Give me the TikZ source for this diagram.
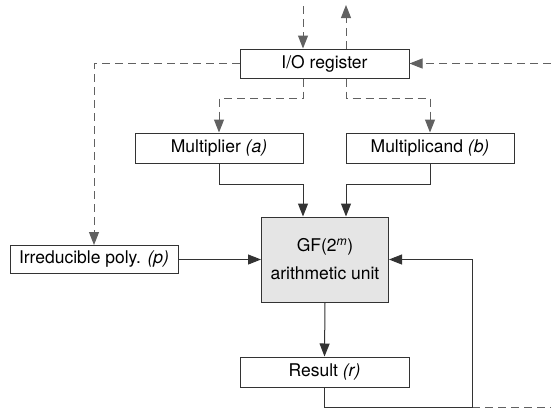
\documentclass[tikz,border=0pt]{standalone}
\usepackage{fontspec}
\setmainfont{TeX Gyre Heros}
\usetikzlibrary{arrows.meta}
\definecolor{solidc}{gray}{0.2}
\definecolor{dashc}{gray}{0.38}
\definecolor{gffill}{gray}{0.9}
\tikzset{
  box/.style={draw=solidc, line width=1pt, inner sep=0pt, font=\fontsize{17.5}{28}\selectfont, align=center},
  conn/.style={draw=solidc, line width=1pt},
  dconn/.style={draw=dashc, line width=1pt, dash pattern=on 8pt off 5pt},
  arr/.style={-{Triangle[length=13pt,width=10pt]}},
}
\begin{document}
\begin{tikzpicture}[x=1pt,y=-1pt]
\useasboundingbox (0,0) rectangle (551,413);
% nodes
\node[box, minimum width=169pt, minimum height=29pt] (io) at (324.5,63.5) {I/O register};
\node[box, minimum width=168pt, minimum height=30pt] (mul) at (219,148) {Multiplier \textit{(a)}};
\node[box, minimum width=168pt, minimum height=30pt] (mcd) at (430,148) {Multiplicand \textit{(b)}};
\node[box, minimum width=168pt, minimum height=28pt] (irr) at (94,259.5) {Irreducible poly. \textit{(p)}};
\node[box, fill=gffill, minimum width=127pt, minimum height=85pt] (gf) at (325,259.5) {GF(2\textsuperscript{\textit{m}})\\arithmetic unit};
\node[box, minimum width=169pt, minimum height=30pt] (res) at (324.5,372) {Result \textit{(r)}};
% helper coordinates
\coordinate (topin) at (303,6);
\coordinate (topout) at (346,5);
\coordinate (rin) at (551,63.5);
\coordinate (ya) at (0,98);
\coordinate (yb) at (0,184);
\coordinate (corner) at (472,407);
\coordinate (rout) at (551,407);
% dashed connectors
\draw[dconn, arr] (topin) -- (topin |- io.north);
\draw[dconn, arr] (topout |- io.north) -- (topout);
\draw[dconn, arr] (rin) -- (io.east);
\draw[dconn, arr] (io.west) -| (irr.north);
\draw[dconn, arr] (topin |- io.south) -- (topin |- ya) -| (mul.north);
\draw[dconn, arr] (topout |- io.south) -- (topout |- ya) -| (mcd.north);
\draw[dconn] (corner) -- (rout);
% solid connectors
\draw[conn, arr] (mul.south) -- (mul.south |- yb) -| (topin |- gf.north);
\draw[conn, arr] (mcd.south) -- (mcd.south |- yb) -| (topout |- gf.north);
\draw[conn, arr] (irr.east) -- (gf.west);
\draw[conn, arr] (gf.south) -- (res.north);
\draw[conn, arr] (res.south) |- (corner) |- (gf.east);
\end{tikzpicture}
\end{document}
